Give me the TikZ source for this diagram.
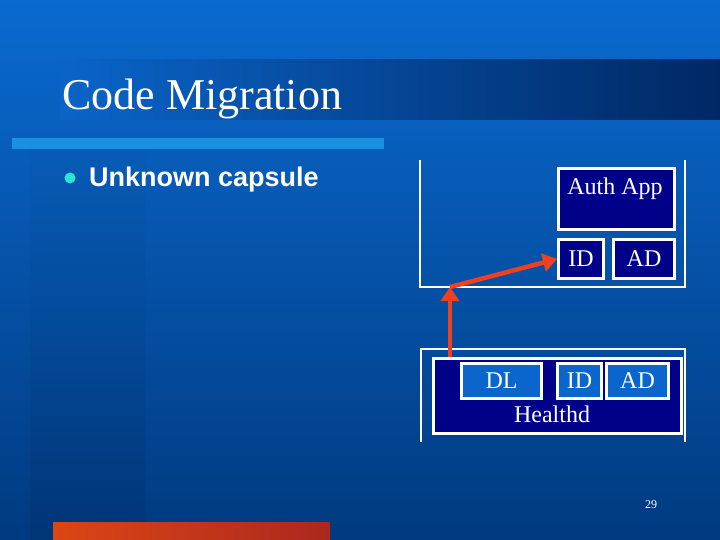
\documentclass[tikz,border=0pt]{standalone}
\usepackage{fontspec}
\setmainfont{Liberation Serif}
\newfontfamily\arial{Liberation Sans}
\usetikzlibrary{arrows.meta}
\definecolor{navy}{HTML}{000088}
\definecolor{lblue}{HTML}{0A66CC}
\definecolor{redarr}{HTML}{F04020}
\tikzset{
  wline/.style={draw=white,line width=2.5pt},
  nbox/.style={draw=white,line width=3pt,fill=navy,text=white,inner sep=0pt},
  lbox/.style={draw=white,line width=3pt,fill=lblue,text=white,inner sep=0pt},
  rarrow/.style={draw=redarr,line width=4.5pt,-{Triangle[length=14pt,width=18pt]}}
}
\begin{document}
\begin{tikzpicture}[x=1pt,y=-1pt]
\useasboundingbox (0,0) rectangle (720,540);
\shade[top color={rgb,255:red,10;green,106;blue,208},bottom color={rgb,255:red,0;green,58;blue,128}] (0,0) rectangle (720,540);
\shade[top color={rgb,255:red,8;green,90;blue,180},bottom color={rgb,255:red,0;green,50;blue,112},opacity=0.6] (30,150) rectangle (145,540);
\shade[left color={rgb,255:red,10;green,100;blue,200},right color={rgb,255:red,0;green,40;blue,100}] (60,60) rectangle (720,120);
\node[anchor=base west,text=white,font=\fontsize{44}{44}\selectfont,inner sep=0pt] (title) at (62,110) {Code Migration};
\fill[color={rgb,255:red,26;green,144;blue,224}] (12,138) rectangle (384,149);
\fill[color={rgb,255:red,40;green,230;blue,210}] (70,178) circle (5.5);
\node[anchor=base west,text=white,font=\arial\bfseries\fontsize{27}{27}\selectfont,inner sep=0pt] (bul) at (89,187) {Unknown capsule};
% upper frame
\draw[wline] (420,160) -- (420,287) -- (685,287) -- (685,160);
\node[nbox,minimum width=116pt,minimum height=61pt,anchor=north west] (auth) at (557,167) {};
\node[text=white,font=\fontsize{24}{24}\selectfont,anchor=base] at (615,195) {Auth App};
\node[nbox,minimum width=45pt,minimum height=39pt,anchor=north west,font=\fontsize{24}{24}\selectfont] (id1) at (557,238) {ID};
\node[nbox,minimum width=61pt,minimum height=39pt,anchor=north west,font=\fontsize{24}{24}\selectfont] (ad1) at (612,238) {AD};
% lower frame
\draw[wline] (421,442) -- (421,349) -- (685,349) -- (685,442);
\node[nbox,minimum width=248pt,minimum height=75pt,anchor=north west] (hd) at (432,357) {};
\node[lbox,minimum width=80pt,minimum height=35pt,anchor=north west,font=\fontsize{24}{24}\selectfont] (dl) at (460,362) {DL};
\node[lbox,minimum width=44pt,minimum height=35pt,anchor=north west,font=\fontsize{24}{24}\selectfont] (id2) at (556,362) {ID};
\node[lbox,minimum width=62pt,minimum height=35pt,anchor=north west,font=\fontsize{24}{24}\selectfont] (ad2) at (605,362) {AD};
\node[text=white,font=\fontsize{24}{24}\selectfont,anchor=base] (hl) at (552,422) {Healthd};
% arrows
\coordinate (a0) at (450,357);
\coordinate (a1) at (450,287);
\draw[rarrow] (a0) -- (a1);
\draw[rarrow] (a1) -- (id1.west);
% footer
\shade[left color={rgb,255:red,220;green,70;blue,20},right color={rgb,255:red,170;green,40;blue,30}] (53,522) rectangle (330,540);
\node[text=white,font=\fontsize{12}{12}\selectfont] (pg) at (651,505) {29};
\end{tikzpicture}
\end{document}
